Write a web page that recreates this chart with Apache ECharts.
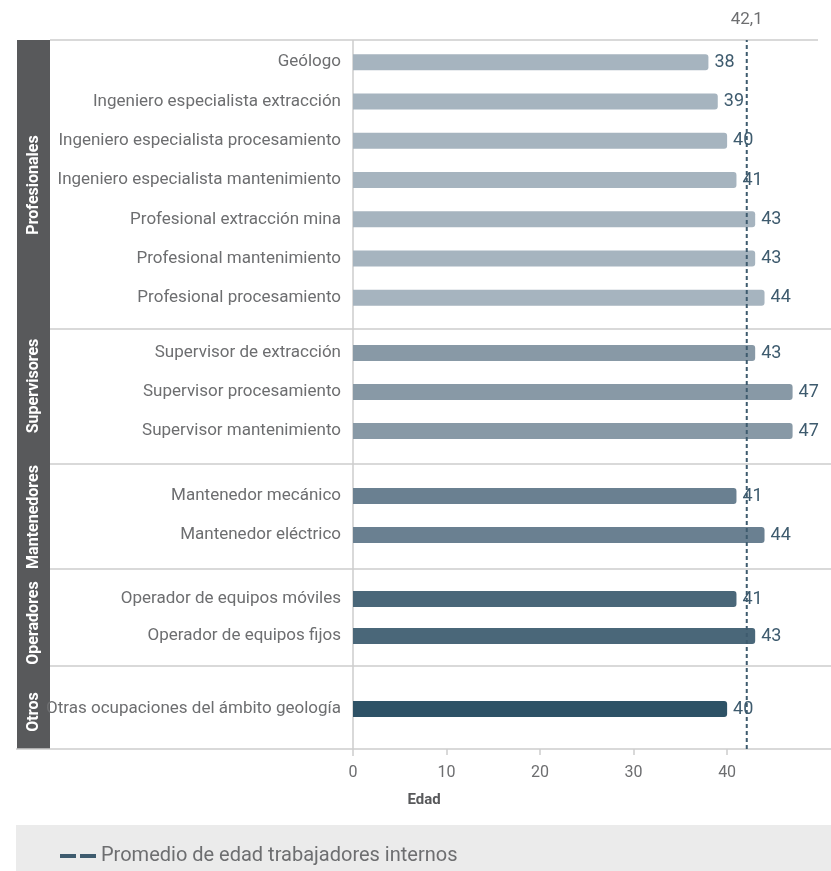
<!DOCTYPE html>
<html>
<head>
<meta charset="utf-8">
<script src="https://cdn.jsdelivr.net/npm/echarts@6/dist/echarts.min.js"></script>
<style>
  html, body { margin: 0; padding: 0; background: #ffffff; }
  #chart { width: 831px; height: 871px; }
</style>
</head>
<body>
<div id="chart"></div>
<script>
// Age by occupation, grouped by worker type
const groupNames = ['Profesionales', 'Supervisores', 'Mantenedores', 'Operadores', 'Otros'];

const profesionales = ['Geólogo', 'Ingeniero especialista extracción', 'Ingeniero especialista procesamiento',
  'Ingeniero especialista mantenimiento', 'Profesional extracción mina', 'Profesional mantenimiento',
  'Profesional procesamiento'];
const profesionalesEdad = [38, 39, 40, 41, 43, 43, 44];

const supervisores = ['Supervisor de extracción', 'Supervisor procesamiento', 'Supervisor mantenimiento'];
const supervisoresEdad = [43, 47, 47];

const mantenedores = ['Mantenedor mecánico', 'Mantenedor eléctrico'];
const mantenedoresEdad = [41, 44];

const operadores = ['Operador de equipos móviles', 'Operador de equipos fijos'];
const operadoresEdad = [41, 43];

const otros = ['Otras ocupaciones del ámbito geología'];
const otrosEdad = [40];

const promedioEdad = 42.1;
const promedioNombre = 'Promedio de edad trabajadores internos';
const axisTitle = 'Edad';
const tickValues = [0, 10, 20, 30, 40];

const FONT = "Roboto, 'Liberation Sans', sans-serif";
const GREY_TEXT = '#6d6e70';
const VALUE_TEXT = '#3e5b6e';
const RULE = '#cdcdcd';
const X_MAX = 51;

const groups = [
  { cats: profesionales, vals: profesionalesEdad, color: '#a6b4bf', top: 42.5, height: 275, labelY: 185 },
  { cats: supervisores, vals: supervisoresEdad, color: '#8899a6', top: 333.5, height: 117, labelY: 386 },
  { cats: mantenedores, vals: mantenedoresEdad, color: '#6a8091', top: 476.5, height: 78, labelY: 517 },
  { cats: operadores, vals: operadoresEdad, color: '#4a6779', top: 580.5, height: 74, labelY: 623 },
  { cats: otros, vals: otrosEdad, color: '#2e5266', top: 689.5, height: 39, labelY: 712 }
];

const PLOT_LEFT = 353;
const PLOT_RIGHT = 1;

const grid = [{ left: PLOT_LEFT, right: PLOT_RIGHT, top: 40, bottom: 871 - 749, containLabel: false, outerBoundsMode: 'none' }];
const xAxis = [{
  gridIndex: 0, type: 'value', min: 0, max: X_MAX,
  axisLine: { show: false },
  splitLine: { show: false },
  axisTick: { show: true, length: 6, customValues: tickValues.slice(1), lineStyle: { color: RULE, width: 1.5 } },
  axisLabel: { customValues: tickValues, color: GREY_TEXT, fontSize: 16, fontFamily: FONT, margin: 16 }
}];
const yAxis = [{ gridIndex: 0, type: 'value', min: 0, max: 1, show: false }];
const series = [];

groups.forEach((g, i) => {
  const idx = i + 1;
  grid.push({ left: PLOT_LEFT, right: PLOT_RIGHT, top: g.top, height: g.height, containLabel: false, outerBoundsMode: 'none' });
  xAxis.push({ gridIndex: idx, type: 'value', min: 0, max: X_MAX, show: false });
  yAxis.push({
    gridIndex: idx, type: 'category', inverse: true, data: g.cats,
    axisLine: { show: false }, axisTick: { show: false },
    axisLabel: { color: GREY_TEXT, fontSize: 17, fontFamily: FONT, margin: 12 }
  });
  series.push({
    type: 'bar', name: groupNames[i], xAxisIndex: idx, yAxisIndex: idx,
    data: g.vals, barWidth: 16,
    itemStyle: { color: g.color, borderRadius: [0, 3, 3, 0] },
    label: { show: true, position: 'right', distance: 6, color: VALUE_TEXT, fontSize: 18, fontFamily: FONT },
    z: 2
  });
});

// average age reference line across all groups
series.push({
  type: 'line', name: promedioNombre, xAxisIndex: 0, yAxisIndex: 0,
  data: [
    [promedioEdad, 0],
    {
      value: [promedioEdad, 1],
      label: {
        show: true, position: 'top', distance: 12,
        formatter: p => String(p.value[0]).replace('.', ','),
        color: GREY_TEXT, fontSize: 17, fontFamily: FONT
      }
    }
  ],
  symbol: 'circle', symbolSize: 0,
  lineStyle: { color: '#3e5b6e', width: 2, type: [4, 3] },
  itemStyle: { color: '#3e5b6e' },
  silent: true, z: 5
});

const graphic = [
  // legend panel
  { type: 'rect', shape: { x: 16, y: 825, width: 815, height: 46 }, style: { fill: '#ebebeb' }, z: -10 },
  // group side bar
  { type: 'rect', shape: { x: 17, y: 40, width: 33, height: 709 }, style: { fill: '#58595b' }, z: -5 },
  // frame and group separators
  { type: 'line', shape: { x1: 50, y1: 40, x2: 818, y2: 40 }, style: { stroke: RULE, lineWidth: 1.5 } },
  { type: 'line', shape: { x1: 50, y1: 329, x2: 831, y2: 329 }, style: { stroke: RULE, lineWidth: 1.5 } },
  { type: 'line', shape: { x1: 50, y1: 464, x2: 831, y2: 464 }, style: { stroke: RULE, lineWidth: 1.5 } },
  { type: 'line', shape: { x1: 50, y1: 569, x2: 831, y2: 569 }, style: { stroke: RULE, lineWidth: 1.5 } },
  { type: 'line', shape: { x1: 50, y1: 666, x2: 831, y2: 666 }, style: { stroke: RULE, lineWidth: 1.5 } },
  { type: 'line', shape: { x1: 16, y1: 749, x2: 831, y2: 749 }, style: { stroke: RULE, lineWidth: 1.5 } },
  { type: 'line', shape: { x1: PLOT_LEFT, y1: 40, x2: PLOT_LEFT, y2: 756 }, style: { stroke: RULE, lineWidth: 1.5 } },
  // axis title
  { type: 'text', x: 424, y: 800, style: { text: axisTitle, fill: '#58595b', font: 'bold 15px ' + FONT, align: 'center', verticalAlign: 'middle' } }
];

groups.forEach((g, i) => {
  graphic.push({
    type: 'text', x: 33.5, y: g.labelY, rotation: Math.PI / 2,
    style: { text: groupNames[i], fill: '#ffffff', font: 'bold 16px ' + FONT, align: 'center', verticalAlign: 'middle' },
    z: 10
  });
});

const chart = echarts.init(document.getElementById('chart'), null, { renderer: 'canvas' });
chart.setOption({
  animation: false,
  backgroundColor: '#ffffff',
  grid, xAxis, yAxis, series, graphic,
  legend: {
    data: [promedioNombre],
    left: 55, top: 841,
    icon: 'path://M0,0h16v4h-16z M20,0h16v4h-16z',
    itemWidth: 36, itemHeight: 5, itemGap: 8,
    itemStyle: { color: '#3e5b6e' },
    textStyle: { color: GREY_TEXT, fontSize: 20, fontFamily: FONT },
    selectedMode: false
  }
});
</script>
</body>
</html>
